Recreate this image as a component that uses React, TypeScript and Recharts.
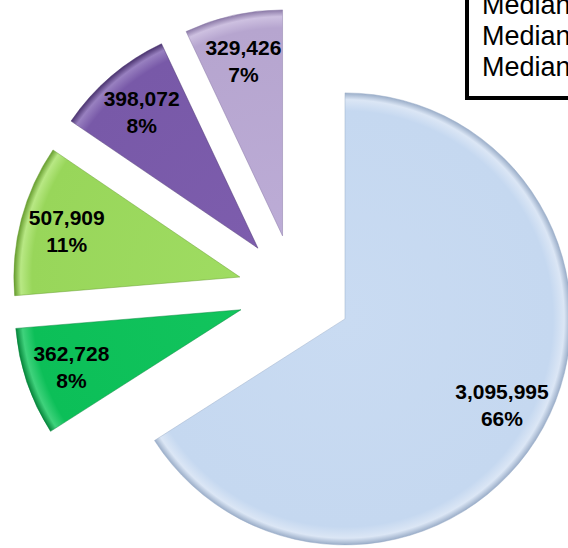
import React from 'react';
import { PieChart, Pie, Cell } from 'recharts';

const categories = ['Segment A', 'Segment B', 'Segment C', 'Segment D', 'Segment E'];
const values = [3095995, 362728, 507909, 398072, 329426];
const legendLabels = ['Median', 'Median', 'Median'];

const baseColors = ['#c5d8f0', '#0cbf58', '#98d65a', '#7859a8', '#b6a5cf'];
const innerColors = ['#c9dbf2', '#12c45d', '#9fdc62', '#7d5dad', '#bcacd6'];
const rimColors = ['#dbe6f5', '#3fd27c', '#b8e884', '#9880c0', '#cdc0e0'];
const edgeColors = ['#9aadc8', '#05843a', '#669c2e', '#4a336f', '#8a78a6'];

const data = categories.map((name, i) => ({ name, value: values[i] }));

const CX = 295;
const CY = 291.5;
const R = 226;
const EXPLODE = 57;
const RAD = Math.PI / 180;
const FONT = "Arial, 'Liberation Sans', sans-serif";

const total = values.reduce((a, b) => a + b, 0);
const centers = values.map((v, i) => {
  const before = values.slice(0, i).reduce((a, b) => a + b, 0);
  const mid = 90 - (360 * (before + v / 2)) / total;
  return {
    x: CX + EXPLODE * Math.cos(mid * RAD),
    y: CY - EXPLODE * Math.sin(mid * RAD),
  };
});

const makeLabel = (target: number) => (props: any) => {
  const { cx, cy, midAngle, percent, value, index } = props;
  if (index !== target) return null;
  const r = 179;
  const x = cx + r * Math.cos(-midAngle * RAD);
  const y = cy + r * Math.sin(-midAngle * RAD);
  return (
    <g>
      <text x={x} y={y - 13.5} textAnchor="middle" dominantBaseline="central"
        fontFamily={FONT} fontWeight="bold" fontSize={21} fill="#000">
        {Number(value).toLocaleString('en-US')}
      </text>
      <text x={x} y={y + 13.5} textAnchor="middle" dominantBaseline="central"
        fontFamily={FONT} fontWeight="bold" fontSize={21} fill="#000">
        {Math.round(percent * 100)}%
      </text>
    </g>
  );
};

export default function App() {
  return (
    <div style={{ position: 'absolute', left: 0, top: 0, width: 568, height: 548, overflow: 'hidden', background: '#fff' }}>
      <PieChart width={568} height={548} margin={{ top: 0, right: 0, bottom: 0, left: 0 }} style={{ position: 'absolute', left: 0, top: 0 }}>
        <defs>
          {centers.map((c, i) => (
            <radialGradient key={i} id={`sliceGrad${i}`} gradientUnits="userSpaceOnUse" cx={c.x} cy={c.y} r={R}>
              <stop offset="0%" stopColor={innerColors[i]} />
              <stop offset="92%" stopColor={baseColors[i]} />
              <stop offset="97%" stopColor={rimColors[i]} />
              <stop offset="100%" stopColor={edgeColors[i]} />
            </radialGradient>
          ))}
        </defs>
        {values.map((_, target) => (
          <Pie
            key={target}
            data={data}
            dataKey="value"
            nameKey="name"
            cx={centers[target].x}
            cy={centers[target].y}
            outerRadius={R}
            innerRadius={0}
            startAngle={90}
            endAngle={-270}
            isAnimationActive={false}
            labelLine={false}
            label={makeLabel(target)}
          >
            {data.map((_, i) => (
              <Cell
                key={i}
                fill={i === target ? `url(#sliceGrad${i})` : 'none'}
                stroke={i === target ? edgeColors[i] : 'none'}
                strokeWidth={i === target ? 0.8 : 0}
                strokeOpacity={0.6}
              />
            ))}
          </Pie>
        ))}
      </PieChart>
      <div
        style={{
          position: 'absolute',
          left: 465,
          top: -16,
          width: 200,
          height: 116,
          border: '4px solid #000',
          boxSizing: 'border-box',
          background: '#fff',
          fontFamily: FONT,
          fontSize: 27,
          color: '#000',
        }}
      >
        {legendLabels.map((t, i) => (
          <div key={i} style={{ position: 'absolute', left: 13, top: 2 + i * 31, lineHeight: '31px', whiteSpace: 'nowrap' }}>
            {t}
          </div>
        ))}
      </div>
    </div>
  );
}
